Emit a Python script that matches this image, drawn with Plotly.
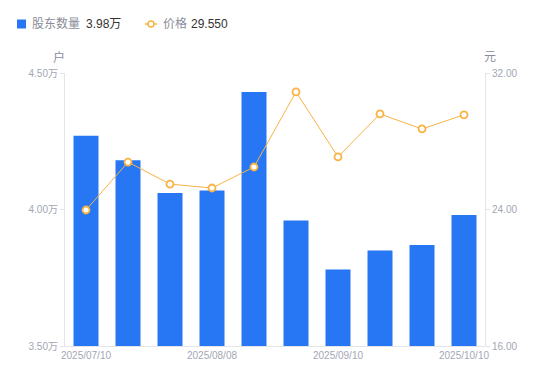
import plotly.graph_objects as go

dates = ["2025/07/10", "2025/07/18", "2025/07/31", "2025/08/08", "2025/08/20",
         "2025/08/29", "2025/09/10", "2025/09/19", "2025/09/30", "2025/10/10"]
holders_wan = [4.27, 4.18, 4.06, 4.07, 4.43, 3.96, 3.78, 3.85, 3.87, 3.98]
price = [23.97, 26.78, 25.49, 25.26, 26.49, 30.89, 27.08, 29.60, 28.72, 29.55]
shown_ticks = [dates[0], dates[3], dates[6], dates[9]]
latest_holders = "3.98万"
latest_price = "29.550"

BLUE = "#2777f5"
ORANGE = "#f7b444"
GRAY = "#a3a6b4"
LABEL = "#8a8d99"
DARK = "#333333"
AXIS = "#e3e5ea"
FONT = "Liberation Sans, Arial, Noto Sans CJK SC, sans-serif"

W, H = 550, 381
L, R, T, B = 65, 65, 73, 35
PW, PH = W - L - R, H - T - B


def px(x):
    return (x - L) / PW


def py(y):
    return (H - B - y) / PH


fig = go.Figure()
fig.add_trace(go.Bar(
    x=dates, y=holders_wan, name="股东数量",
    marker=dict(color=BLUE, line=dict(width=0)), yaxis="y",
))
fig.add_trace(go.Scatter(
    x=dates, y=price, name="价格",
    mode="lines+markers", yaxis="y2",
    line=dict(color=ORANGE, width=1),
    marker=dict(symbol="circle", size=7, color="white", line=dict(color=ORANGE, width=1.8)),
))

ann = []
shapes = []
# custom legend
shapes.append(dict(type="rect", xref="paper", yref="paper",
                   x0=px(17), x1=px(26), y0=py(28.5), y1=py(19.5),
                   fillcolor=BLUE, line=dict(width=0), layer="above"))
ann.append(dict(text="股东数量", x=px(30), y=py(24), xanchor="left", yanchor="middle",
                font=dict(size=12, color=LABEL)))
ann.append(dict(text=latest_holders, x=px(84), y=py(24), xanchor="left", yanchor="middle",
                font=dict(size=12, color=DARK)))
shapes.append(dict(type="line", xref="paper", yref="paper",
                   x0=px(145), x1=px(157), y0=py(24), y1=py(24),
                   line=dict(color=ORANGE, width=1.5)))
shapes.append(dict(type="circle", xref="paper", yref="paper",
                   x0=px(148), x1=px(154), y0=py(27), y1=py(21),
                   fillcolor="white", line=dict(color=ORANGE, width=1.5)))
ann.append(dict(text="价格", x=px(161), y=py(24), xanchor="left", yanchor="middle",
                font=dict(size=12, color=LABEL)))
ann.append(dict(text=latest_price, x=px(189), y=py(24), xanchor="left", yanchor="middle",
                font=dict(size=12, color=DARK)))
# axis unit titles
ann.append(dict(text="户", x=px(59), y=py(57), xanchor="center", yanchor="middle",
                font=dict(size=12, color=LABEL)))
ann.append(dict(text="元", x=px(490), y=py(57), xanchor="center", yanchor="middle",
                font=dict(size=12, color=LABEL)))
for a in ann:
    a.update(xref="paper", yref="paper", showarrow=False)

fig.update_layout(
    width=W, height=H,
    margin=dict(l=L, r=R, t=T, b=B, autoexpand=False),
    plot_bgcolor="white", paper_bgcolor="white",
    font=dict(family=FONT, size=11, color=GRAY),
    bargap=0.405,
    showlegend=False,
    xaxis=dict(
        type="category", range=[-0.5, len(dates) - 0.5],
        tickvals=shown_ticks, ticktext=shown_ticks,
        showline=True, linecolor=AXIS, linewidth=1, showgrid=False,
        ticks="", tickfont=dict(size=10, color=GRAY), zeroline=False,
    ),
    yaxis=dict(
        range=[3.5, 4.5], tickvals=[3.5, 4.0, 4.5], ticktext=["3.50万", "4.00万", "4.50万"],
        showline=True, linecolor=AXIS, linewidth=1, showgrid=False,
        ticks="outside", ticklen=4, tickcolor=AXIS, tickfont=dict(size=10, color=GRAY),
        zeroline=False,
    ),
    yaxis2=dict(
        range=[16, 32], tickvals=[16, 24, 32], ticktext=["16.00", "24.00", "32.00"],
        overlaying="y", side="right",
        showline=True, linecolor=AXIS, linewidth=1, showgrid=False,
        ticks="outside", ticklen=4, tickcolor=AXIS, tickfont=dict(size=10, color=GRAY),
        zeroline=False,
    ),
    annotations=ann,
    shapes=shapes,
)

fig.write_html(
    "out.html",
    config={"displayModeBar": False},
    post_script="document.body.style.margin='0';document.body.style.overflow='hidden';",
)
